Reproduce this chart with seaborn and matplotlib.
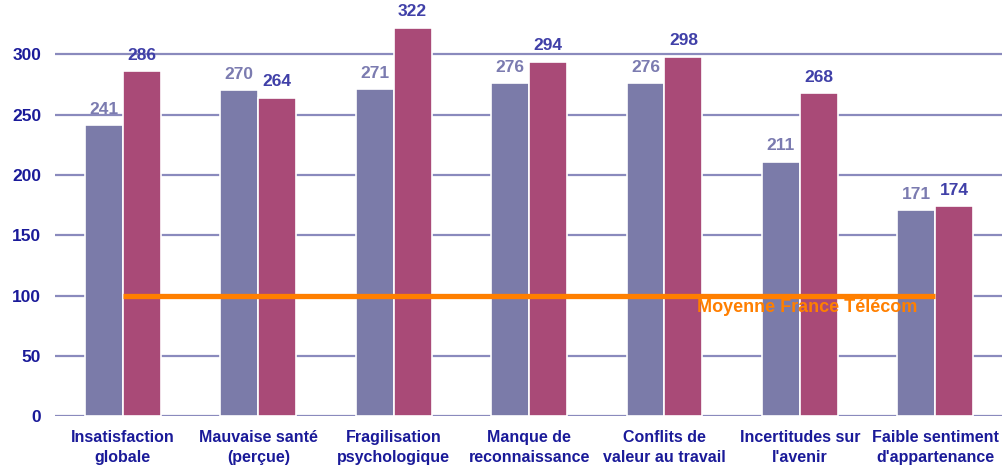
import pandas as pd
import matplotlib
matplotlib.use("Agg")
import matplotlib.pyplot as plt
import seaborn as sns

# Data
categories = ["Insatisfaction\nglobale", "Mauvaise santé\n(perçue)", "Fragilisation\npsychologique",
              "Manque de\nreconnaissance", "Conflits de\nvaleur au travail", "Incertitudes sur\nl'avenir",
              "Faible sentiment\nd'appartenance"]
series_names = ["Série 1", "Série 2"]
serie1 = [241, 270, 271, 276, 276, 211, 171]
serie2 = [286, 264, 322, 294, 298, 268, 174]
reference_value = 100
reference_label = "Moyenne France Télécom"

sns.set_theme(style="white")
plt.rcParams['font.family'] = ['Liberation Sans', 'DejaVu Sans']

df = pd.DataFrame({
    "categorie": categories * 2,
    "serie": [series_names[0]] * len(categories) + [series_names[1]] * len(categories),
    "valeur": serie1 + serie2,
})

bar_colors = ["#7B7BA9", "#A94A77"]
label_colors = ["#7B7BB0", "#4040A8"]
navy = "#1A1A99"

fig = plt.figure(figsize=(10.03, 4.66), dpi=100)
ax = fig.add_axes([0.055, 0.107, 0.945, 0.893])

sns.barplot(data=df, x="categorie", y="valeur", hue="serie", palette=bar_colors,
            width=0.56, edgecolor="white", linewidth=1.2, saturation=1, legend=False, ax=ax, zorder=3)

ax.set_ylim(0, 345)
ax.set_xlim(-0.5, len(categories) - 0.5)
ax.set_yticks([0, 50, 100, 150, 200, 250, 300])
ax.yaxis.grid(True, color="#8A8ABD", linewidth=1.6, zorder=0)
ax.set_axisbelow(True)
for s in ax.spines.values():
    s.set_visible(False)
ax.set_xlabel("")
ax.set_ylabel("")
ax.tick_params(axis="both", length=0)
ax.tick_params(axis="y", pad=10)
ax.tick_params(axis="x", pad=10)
for lbl in ax.get_yticklabels():
    lbl.set_fontsize(12.5)
    lbl.set_fontweight("bold")
    lbl.set_color(navy)
for lbl in ax.get_xticklabels():
    lbl.set_fontsize(11.5)
    lbl.set_fontweight("bold")
    lbl.set_color(navy)
    lbl.set_linespacing(1.45)

# value labels
for container, col in zip(ax.containers, label_colors):
    ax.bar_label(container, fmt="%d", padding=6, fontsize=12.5, fontweight="bold", color=col)

# reference line
ax.plot([0, len(categories) - 1], [reference_value, reference_value], color="#FF7F00",
        linewidth=3.8, zorder=4, solid_capstyle="butt")
ax.text(4.24, reference_value - 2.5, reference_label, color="#FF7F00", fontsize=13,
        fontweight="bold", ha="left", va="top", zorder=5)

fig.savefig("out.png", dpi=100)
